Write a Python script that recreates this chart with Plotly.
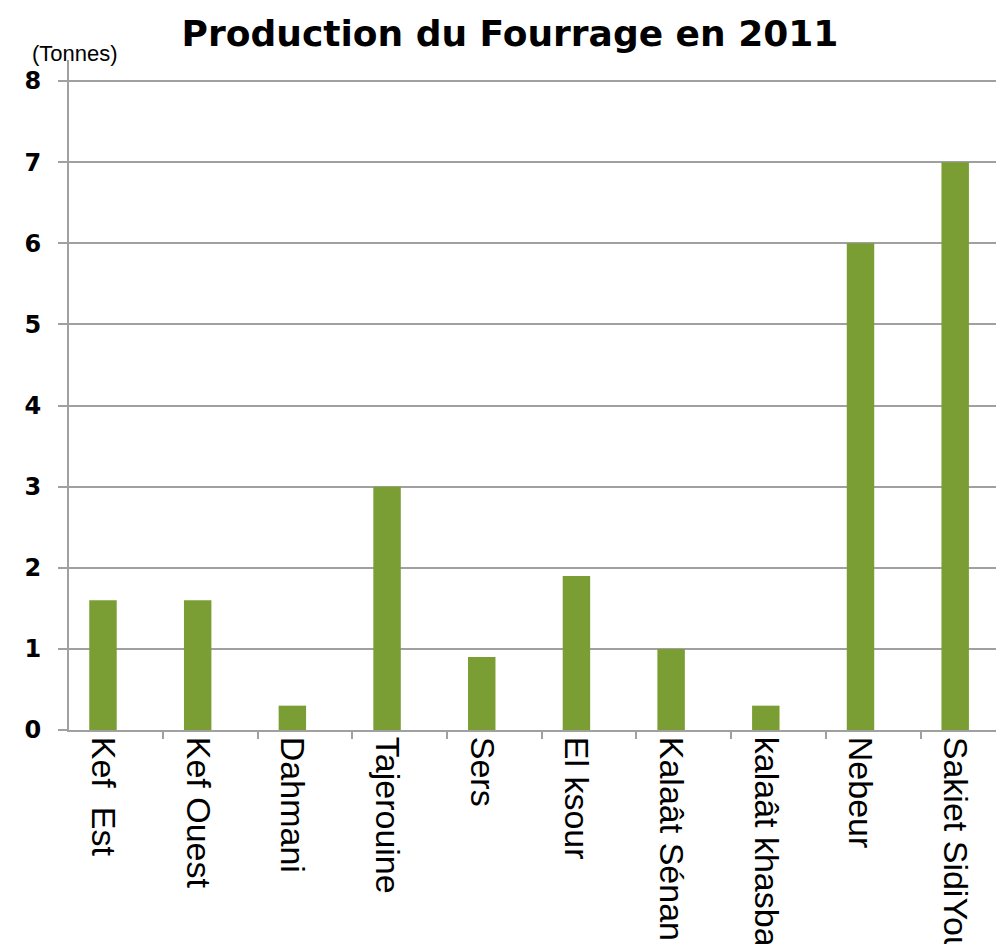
import plotly.graph_objects as go

categories = ["Kef  Est", "Kef Ouest", "Dahmani", "Tajerouine", "Sers", "El ksour",
              "Kalaât Sénan", "kalaât khasba", "Nebeur", "Sakiet SidiYoussef"]
production = [1.6, 1.6, 0.3, 3.0, 0.9, 1.9, 1.0, 0.3, 6.0, 7.0]
y_ticks = [0, 1, 2, 3, 4, 5, 6, 7, 8]

positions = list(range(len(categories)))

fig = go.Figure()
fig.add_trace(go.Bar(
    x=positions, y=production,
    width=0.29,
    marker=dict(color="#7a9e34", line=dict(width=0)),
    hoverinfo="skip",
))

fig.update_layout(
    width=1004, height=944,
    margin=dict(l=61, r=0, t=52, b=222, autoexpand=False),
    paper_bgcolor="white", plot_bgcolor="white",
    showlegend=False,
    title=dict(text="<b>Production du Fourrage en 2011</b>",
               x=0.5, xanchor="center", xref="container",
               y=1 - 25 / 944, yanchor="middle", yref="container",
               font=dict(family="DejaVu Sans", size=36, color="black")),
    annotations=[dict(text="(Tonnes)", xref="paper", yref="paper",
                      x=0, y=1.0, xanchor="center", yanchor="middle",
                      xshift=6, yshift=7,
                      showarrow=False,
                      font=dict(family="Liberation Sans, Arial", size=22, color="black"))],
)

fig.update_xaxes(
    range=[-0.359, 9.6],
    tickmode="array", tickvals=positions, ticktext=categories,
    tickangle=90, ticks="", ticklabelstandoff=-2,
    tickfont=dict(family="Liberation Sans, Arial", size=34, color="black"),
    showline=True, linecolor="#a0a0a0", linewidth=2,
    showgrid=False, zeroline=False, automargin=False,
    minor=dict(tickmode="linear", tick0=0.634, dtick=1, ticks="outside",
               ticklen=7, tickcolor="#a0a0a0", tickwidth=2, showgrid=False),
)

fig.update_yaxes(
    range=[0, 8.26],
    tickmode="array", tickvals=y_ticks,
    ticks="outside", ticklen=9, tickcolor="#a0a0a0", tickwidth=2,
    ticklabelstandoff=12,
    tickfont=dict(family="DejaVu Sans", size=24, color="black", weight="bold"),
    showgrid=True, gridcolor="#a0a0a0", gridwidth=2,
    showline=True, linecolor="#a0a0a0", linewidth=2,
    zeroline=False, automargin=False,
)

fig.write_html("out.html")
